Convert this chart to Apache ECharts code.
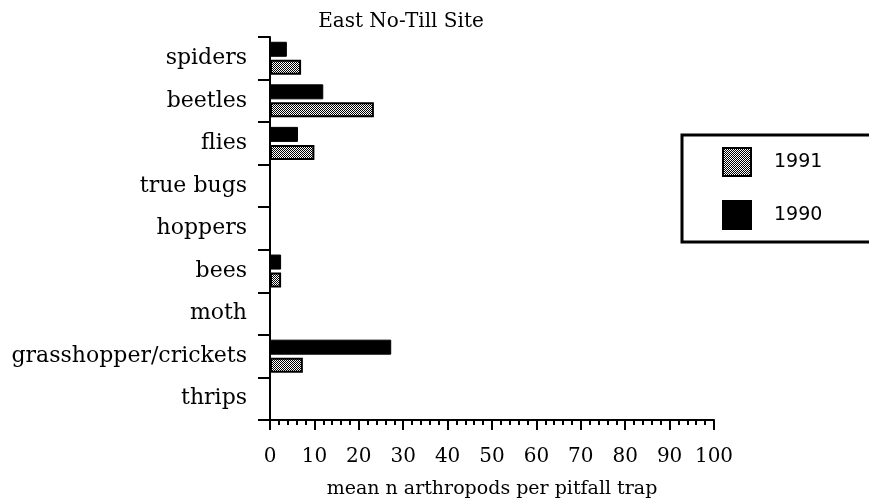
<!DOCTYPE html>
<html>
<head>
<meta charset="utf-8">
<script src="https://cdn.jsdelivr.net/npm/echarts@6/dist/echarts.min.js"></script>
<style>
  html, body { margin: 0; padding: 0; background: #fff; }
  #chart { width: 869px; height: 504px; }
</style>
</head>
<body>
<div id="chart"></div>
<script>
const categories = ['spiders', 'beetles', 'flies', 'true bugs', 'hoppers', 'bees', 'moth', 'grasshopper/crickets', 'thrips'];
const values1991 = [7, 23.4, 10, 0, 0, 2.5, 0, 7.4, 0];
const values1990 = [3.8, 12, 6.3, 0, 0, 2.5, 0, 27.3, 0];
const xTicks = [0, 10, 20, 30, 40, 50, 60, 70, 80, 90, 100];

// stipple fill for the 1991 bars
function stipple() {
  const c = document.createElement('canvas');
  c.width = 4; c.height = 4;
  const g = c.getContext('2d');
  g.fillStyle = '#fff';
  g.fillRect(0, 0, 4, 4);
  g.fillStyle = '#000';
  g.fillRect(0, 0, 1, 1);
  g.fillRect(2, 0, 1, 1);
  g.fillRect(1, 1, 1, 1);
  g.fillRect(3, 1, 1, 1);
  g.fillRect(0, 2, 1, 1);
  g.fillRect(2, 2, 1, 1);
  g.fillRect(1, 3, 1, 1);
  g.fillRect(3, 3, 1, 1);
  return c;
}

const font = 'DejaVu Serif';
const myChart = echarts.init(document.getElementById('chart'));
const option = {
  backgroundColor: '#fff',
  animation: false,
  title: {
    text: 'East No-Till Site',
    left: 396,
    textAlign: 'center',
    top: 7,
    textStyle: { fontFamily: font, fontSize: 20, fontWeight: 'normal', color: '#000' }
  },
  legend: {
    orient: 'vertical',
    left: 682,
    top: 135,
    data: ['1991', '1990'],
    icon: 'rect',
    itemWidth: 28,
    itemHeight: 28,
    itemGap: 23,
    padding: [12, 80, 12, 40],
    borderColor: '#000',
    borderWidth: 3,
    textStyle: { fontFamily: 'DejaVu Sans', fontSize: 19, color: '#000', padding: [0, 0, 0, 18] }
  },
  grid: { left: 270, right: 155, top: 37, bottom: 76 },
  xAxis: {
    type: 'value',
    min: 0,
    max: 100,
    interval: 10,
    name: 'mean n arthropods per pitfall trap',
    nameLocation: 'middle',
    nameGap: 60,
    nameTextStyle: { fontFamily: font, fontSize: 19, color: '#000' },
    axisLine: { show: true, lineStyle: { color: '#000', width: 2 } },
    axisTick: { show: true, length: 10, lineStyle: { color: '#000', width: 2 } },
    minorTick: { show: true, splitNumber: 5, length: 5, lineStyle: { color: '#000', width: 2 } },
    axisLabel: {
      margin: 27,
      fontFamily: font, fontSize: 20, color: '#000',
      formatter: function (v) { return xTicks.indexOf(v) >= 0 ? String(v) : ''; }
    },
    splitLine: { show: false }
  },
  yAxis: {
    type: 'category',
    inverse: true,
    data: categories,
    axisLine: { show: true, lineStyle: { color: '#000', width: 2 } },
    axisTick: { show: true, length: 12, lineStyle: { color: '#000', width: 2 } },
    axisLabel: { margin: 23, fontFamily: font, fontSize: 22, color: '#000' }
  },
  series: [
    {
      name: '1990',
      type: 'bar',
      data: values1990,
      barWidth: 15,
      barGap: '20%',
      itemStyle: { color: '#000', borderColor: '#000', borderWidth: 1 }
    },
    {
      name: '1991',
      type: 'bar',
      data: values1991,
      barWidth: 15,
      itemStyle: { color: { image: stipple(), repeat: 'repeat' }, borderColor: '#000', borderWidth: 2 }
    }
  ]
};
myChart.setOption(option);
window.onresize = myChart.resize;
</script>
</body>
</html>
